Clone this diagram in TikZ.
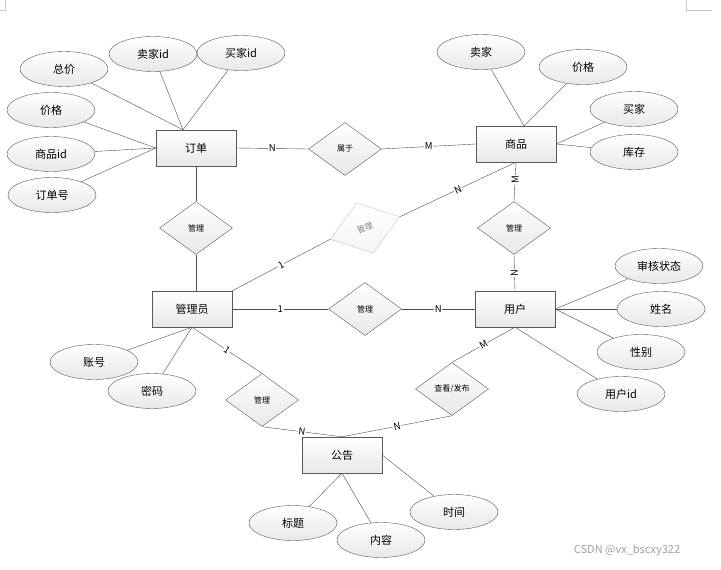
\documentclass[tikz,border=0pt]{standalone}
\usepackage{fontspec}
\setmainfont{Noto Sans CJK SC}
\usetikzlibrary{shapes.geometric, shadows}

\begin{document}
\begin{tikzpicture}[
    x=1pt, y=-1pt,
    font=\fontsize{11}{12}\selectfont,
    entity/.style={
        draw=gray!70!black, rectangle, minimum width=80pt, minimum height=36pt,
        top color=white, bottom color=gray!18,
        drop shadow={shadow xshift=1.2pt, shadow yshift=-1.2pt, opacity=0.25}
    },
    attr/.style={
        draw=gray!70!black, ellipse, minimum width=88pt, minimum height=35pt,
        inner sep=0pt, top color=white, bottom color=gray!18
    },
    rel/.style={
        draw=gray!70!black, diamond, minimum width=73pt, minimum height=53pt,
        inner sep=0pt, top color=white, bottom color=gray!18,
        font=\fontsize{8}{9}\selectfont
    },
    line/.style={draw=gray!60!black, thin},
    card/.style={fill=white, inner sep=0.8pt, font=\fontsize{9.5}{10}\selectfont}
]

\useasboundingbox (0,0) rectangle (721,570);

% crop marks of the page
\draw[gray!45] (5,0) -- (5,10) -- (0,10);
\draw[gray!45] (686,0) -- (686,10) -- (712,10);

% ==========================================
% ENTITIES
% ==========================================

\node[entity] (order) at (196,148) {订单};
\node[entity] (goods) at (516,144) {商品};
\node[entity] (admin) at (192,309) {管理员};
\node[entity] (user) at (515,309) {用户};
\node[entity] (notice) at (342,455) {公告};

% ==========================================
% RELATIONS
% ==========================================

\node[rel] (belong) at (345,149) {属于};
\node[rel] (mgOrder) at (196,228) {管理};
\node[rel] (mgUser) at (514,228) {管理};
\node[rel] (mgMid) at (365,309) {管理};
\node[rel] (mgNotice) at (262,400) {管理};
\node[rel] (viewPub) at (452,389) {查看/发布};
\node[rel, draw=gray!45, top color=white, bottom color=gray!8, rotate=18] (mgGoods) at (365,228) {};
\node[text=gray, rotate=18, font=\fontsize{8}{9}\selectfont] (mgGoodsText) at (mgGoods.center) {管理};

% ==========================================
% ATTRIBUTES
% ==========================================

% order
\node[attr] (ordTotal) at (64,69) {总价};
\node[attr] (ordSeller) at (153,54) {卖家id};
\node[attr] (ordBuyer) at (241,53) {买家id};
\node[attr] (ordPrice) at (51,110) {价格};
\node[attr] (ordGoods) at (51,154) {商品id};
\node[attr] (ordNo) at (52,195) {订单号};

% goods
\node[attr] (gdSeller) at (481,52) {卖家};
\node[attr] (gdPrice) at (583,67) {价格};
\node[attr] (gdBuyer) at (634,109) {买家};
\node[attr] (gdStock) at (634,152) {库存};

% admin
\node[attr] (adAccount) at (94,362) {账号};
\node[attr] (adPwd) at (152,391) {密码};

% user
\node[attr] (usState) at (659,266) {审核状态};
\node[attr] (usName) at (661,309) {姓名};
\node[attr] (usSex) at (641,352) {性别};
\node[attr] (usId) at (621,394) {用户id};

% notice
\node[attr] (ntTitle) at (293,523) {标题};
\node[attr] (ntContent) at (381,540) {内容};
\node[attr] (ntTime) at (454,512) {时间};

% ==========================================
% CONNECTIONS
% ==========================================

\coordinate (ordTop) at ([xshift=-13pt]order.north);
\coordinate (goodsTop) at ([xshift=8pt]goods.north);

\draw[line] (ordTotal) -- (ordTop);
\draw[line] (ordSeller) -- (ordTop);
\draw[line] (ordBuyer) -- (ordTop);
\draw[line] (ordPrice) -- (order.west);
\draw[line] (ordGoods) -- (order.west);
\draw[line] (ordNo) -- (order.west);

\draw[line] (gdSeller) -- (goodsTop);
\draw[line] (gdPrice) -- (goodsTop);
\draw[line] (gdBuyer) -- (goods.east);
\draw[line] (gdStock) -- (goods.east);

\draw[line] (adAccount) -- (admin.south);
\draw[line] (adPwd) -- (admin.south);

\draw[line] (usState) -- (user.east);
\draw[line] (usName) -- (user.east);
\draw[line] (usSex) -- (user.east);
\draw[line] (usId) -- (user.south);

\draw[line] (ntTitle) -- (notice.south);
\draw[line] (ntContent) -- (notice.south);
\draw[line] (ntTime) -- (notice.east);

% relations with cardinalities
\draw[line] (order.east) -- node[card] {N} (belong.west);
\draw[line] (belong.east) -- node[card] {M} (goods.west);

\draw[line] (order.south) -- (mgOrder.north);
\draw[line] (mgOrder.south) -- (mgOrder.south |- admin.north);

\draw[line] (goods.south) -- node[card, pos=0.45, rotate=90] {M} (mgUser.north);
\draw[line] (mgUser.south) -- node[card, rotate=90] {N} (user.north);

\draw[line] (admin.east) -- node[card] {1} (mgMid.west);
\draw[line] (mgMid.east) -- node[card] {N} (user.west);

\draw[line] (admin.north east) -- node[card, sloped] {1} (mgGoods.west);
\draw[line] (mgGoods.east) -- node[card, sloped] {N} (goods.south);

\draw[line] (admin.south) -- node[card, sloped] {1} (mgNotice.north);
\draw[line] (mgNotice.south) -- node[card, sloped] {N} (notice.north);

\draw[line] (user.south) -- node[card, sloped] {M} (viewPub.north);
\draw[line] (viewPub.south) -- node[card, sloped] {N} (notice.north);

% watermark
\node[text=gray!75, font=\fontsize{11}{12}\selectfont] (mark) at (627,550) {CSDN @vx\_bscxy322};

\end{tikzpicture}
\end{document}
